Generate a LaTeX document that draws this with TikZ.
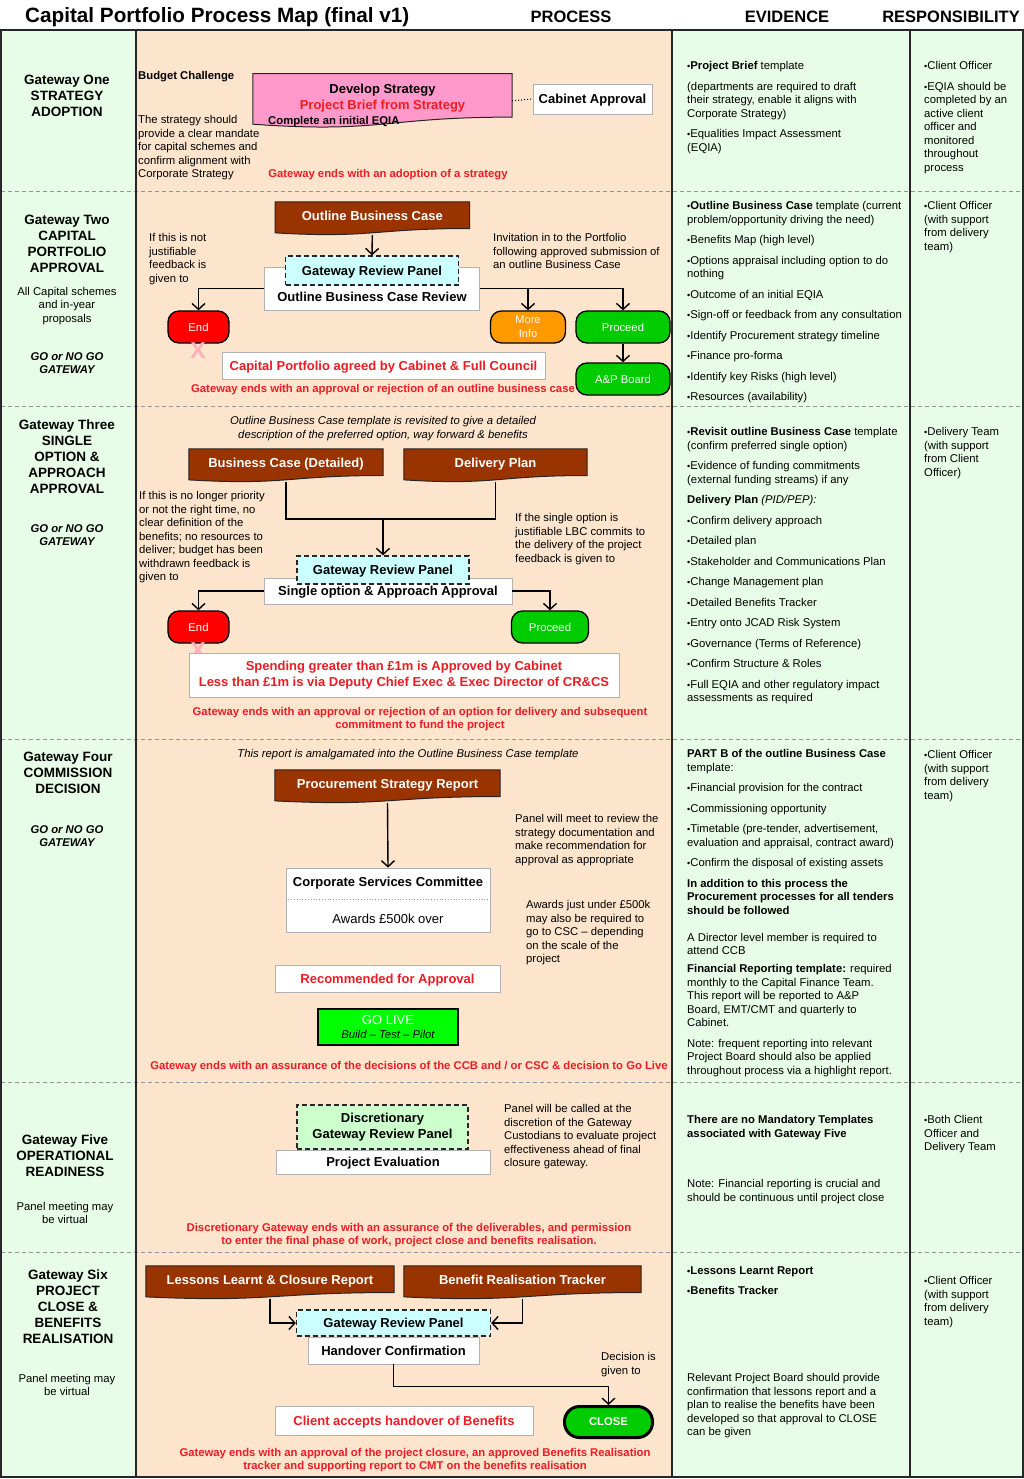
\documentclass[tikz,border=0pt]{standalone}
\usepackage{fontspec}
\setmainfont{Liberation Sans}
\usetikzlibrary{positioning,arrows.meta,calc}
\definecolor{GateGreen}{RGB}{232,253,232}
\definecolor{ProcessPeach}{RGB}{253,228,204}
\definecolor{DocBrown}{RGB}{153,51,0}
\definecolor{DocPink}{RGB}{255,153,204}
\definecolor{PanelCyan}{RGB}{204,255,255}
\definecolor{PanelGreen}{RGB}{204,255,204}
\definecolor{StopRed}{RGB}{255,0,0}
\definecolor{InfoOrange}{RGB}{255,153,0}
\definecolor{GoGreen}{RGB}{0,204,0}
\definecolor{LiveGreen}{RGB}{0,255,0}
\definecolor{NoteRed}{RGB}{237,28,36}
\definecolor{CrossPink}{RGB}{255,175,185}
\definecolor{RuleGrey}{RGB}{150,150,150}

\newcommand{\smallfont}{\fontsize{11.3}{13.5}\selectfont}
\newcommand{\boxfont}{\fontsize{13}{15.5}\selectfont\bfseries}
\newcommand{\gatefont}{\fontsize{13.5}{16}\selectfont\bfseries}
\newcommand{\bul}{{\scalebox{0.8}{\textbullet}}}

\pgfdeclarelayer{sheet}
\pgfdeclarelayer{docs}
\pgfsetlayers{sheet,docs,main}

\newcommand{\docshape}[2]{%
  \filldraw[fill=#2, draw=black!85, line width=1pt]
    (#1.north west) -- (#1.north east)
    -- ($(#1.north east)!0.8!(#1.south east)$)
    .. controls ($(#1.north)!0.8!(#1.south)$) and ($(#1.north)!1.1!(#1.south)$)
    .. ($(#1.north west)!0.93!(#1.south west)$) -- cycle;}

\begin{document}
\begin{tikzpicture}[x=1pt, y=-1pt,
  every node/.style={inner sep=0pt, font=\smallfont},
  headfont/.style={font=\fontsize{16.5}{19}\selectfont\bfseries},
  gatehead/.style={align=center, font=\gatefont, yshift=-1pt},
  gatenote/.style={align=center, yshift=-1pt},
  note/.style={align=left, anchor=north west, yshift=-3pt},
  endnote/.style={align=center, text=NoteRed, font=\smallfont\bfseries, yshift=-2pt},
  oneline/.style={text height=9.5pt, text depth=0.5pt},
  docbox/.style={text=white, font=\boxfont, text height=9.5pt, text depth=5pt},
  panelbox/.style={draw=black!85, dash pattern=on 5pt off 3pt, line width=1.3pt, fill=PanelCyan, font=\boxfont, align=center},
  whitebox/.style={draw=black!30, fill=white, line width=0.8pt, font=\boxfont, align=center},
  pill/.style={draw=black, line width=1.3pt, rounded corners=11pt, text=white, minimum height=32pt},
  crossmark/.style={text=CrossPink, font=\fontsize{23}{23}\selectfont\bfseries},
  link/.style={line width=1.4pt},
  arrow/.style={link, -{Straight Barb[length=6pt,width=13pt]}}
]
\useasboundingbox (0,0) rectangle (1024,1479);

\begin{pgfonlayer}{sheet}
\fill[white] (0,0) rectangle (1024,1479);
\fill[GateGreen] (1,30) rectangle (136,1477);
\fill[ProcessPeach] (136,30) rectangle (672,1477);
\fill[GateGreen] (672,30) rectangle (1023,1477);
\foreach \yy in {191,406,739,1082,1252}
  \draw[RuleGrey, line width=0.9pt, dash pattern=on 4pt off 3pt] (1,\yy) -- (1023,\yy);
\draw[black!85, line width=1.6pt] (1,30) rectangle (1023,1477);
\draw[black!85, line width=2pt] (136,30) -- (136,1477);
\draw[black!85, line width=2pt] (672,30) -- (672,1477);
\draw[black!85, line width=1.5pt] (910,30) -- (910,1477);
\end{pgfonlayer}

\node[anchor=west, font=\fontsize{20.7}{24}\selectfont\bfseries] (title) at (25,17) {Capital Portfolio Process Map (final v1)};
\node[headfont] (hprocess) at (571,17) {PROCESS};
\node[headfont] (hevidence) at (787,17) {EVIDENCE};
\node[headfont] (hresp) at (951,17) {RESPONSIBILITY};

\node[gatehead] (gate1) at (67,95) {Gateway One\\STRATEGY\\ADOPTION};
\node[gatehead] (gate2) at (67,243) {Gateway Two\\CAPITAL\\PORTFOLIO\\APPROVAL};
\node[gatenote] (scope2) at (67,305) {All Capital schemes\\and in-year\\proposals};
\node[gatenote, font=\smallfont\bfseries\itshape] (gonogo2) at (67,362) {GO or NO GO\\GATEWAY};
\node[gatehead] (gate3) at (67,456) {Gateway Three\\SINGLE\\OPTION \&\\APPROACH\\APPROVAL};
\node[gatenote, font=\smallfont\bfseries\itshape] (gonogo3) at (67,534) {GO or NO GO\\GATEWAY};
\node[gatehead] (gate4) at (68,772) {Gateway Four\\COMMISSION\\DECISION};
\node[gatenote, font=\smallfont\bfseries\itshape] (gonogo4) at (67,835) {GO or NO GO\\GATEWAY};
\node[gatehead] (gate5) at (65,1155) {Gateway Five\\OPERATIONAL\\READINESS};
\node[gatenote] (virtual5) at (65,1212) {Panel meeting may\\be virtual};
\node[gatehead] (gate6) at (68,1306) {Gateway Six\\PROJECT\\CLOSE \&\\BENEFITS\\REALISATION};
\node[gatenote] (virtual6) at (67,1384) {Panel meeting may\\be virtual};

\node[anchor=west, font=\smallfont\bfseries] (budget) at (138,77) {Budget Challenge};
\node[note] (mandate) at (138,112.5) {The strategy should\\provide a clear mandate\\for capital schemes and\\confirm alignment with\\Corporate Strategy};
\node[align=center, font=\boxfont, minimum width=259pt, minimum height=54pt] (develop) at (382.5,100.8) {Develop Strategy\\\textcolor{NoteRed}{Project Brief from Strategy}\rule[-8pt]{0pt}{8pt}};
\node[anchor=west, font=\smallfont\bfseries] (eqia) at (268,121.5) {Complete an initial EQIA};
\node[whitebox, oneline, minimum width=119pt, minimum height=30pt] (cabinet) at (592.5,99) {Cabinet Approval};
\draw[dotted, line width=1pt] (develop.east) -- (cabinet.west);
\node[endnote] (end1) at (388,173) {Gateway ends with an adoption of a strategy};

\node[docbox, minimum width=194pt, minimum height=33pt] (obc) at (372.3,218.5) {Outline Business Case};
\node[whitebox, minimum width=215pt, minimum height=43pt, text height=29pt, text depth=3pt] (obcr) at (372,288.5) {Outline Business Case Review};
\node[panelbox, oneline, minimum width=173pt, minimum height=29pt] (grp2) at (372,270.5) {Gateway Review Panel};
\node[pill, fill=StopRed, minimum width=61pt] (stop2) at (198.5,327) {End};
\node[pill, fill=InfoOrange, minimum width=75pt, align=center, font=\fontsize{11}{13.5}\selectfont] (info2) at (528,327) {More\\Info};
\node[pill, fill=GoGreen, minimum width=94pt] (proceed2) at (623,327) {Proceed};
\node[pill, fill=GoGreen, minimum width=94pt] (board2) at (623,379) {A\&P Board};
\node[crossmark] (cross2) at (198,351) {X};
\node[whitebox, oneline, text=NoteRed, minimum width=323pt, minimum height=27pt] (agreed2) at (383.5,365.5) {Capital Portfolio agreed by Cabinet \& Full Council};
\node[endnote] (end2) at (383,388) {Gateway ends with an approval or rejection of an outline business case};
\node[note] (nojust2) at (149,230.5) {If this is not\\justifiable\\feedback is\\given to};
\node[note] (invite2) at (493,230.5) {Invitation in to the Portfolio\\following approved submission of\\an outline Business Case};
\draw[arrow] (obc.south) -- (grp2.north);
\draw[arrow] (obcr.west) -| (stop2.north);
\draw[arrow] (obcr.east) -| (proceed2.north);
\draw[arrow] (obcr.east -| info2.north) -- (info2.north);
\draw[arrow] (proceed2) -- (board2);

\node[align=center, font=\smallfont\itshape, yshift=-1.5pt] (intro3) at (383,427) {Outline Business Case template is revisited to give a detailed\\description of the preferred option, way forward \& benefits};
\node[docbox, minimum width=194pt, minimum height=33pt] (bcd3) at (286,465.5) {Business Case (Detailed)};
\node[docbox, minimum width=183pt, minimum height=33pt] (plan3) at (495.5,465.5) {Delivery Plan};
\node[whitebox, oneline, minimum width=248pt, minimum height=26pt] (soa3) at (388,591) {Single option \& Approach Approval};
\node[panelbox, oneline, minimum width=172pt, minimum height=28pt] (grp3) at (383,570) {Gateway Review Panel};
\node[pill, fill=StopRed, minimum width=61pt] (stop3) at (198.5,627) {End};
\node[pill, fill=GoGreen, minimum width=77pt] (proceed3) at (550,627) {Proceed};
\node[crossmark] (cross3) at (198,651) {X};
\node[whitebox, text=NoteRed, minimum width=430pt, minimum height=44pt] (spend3) at (404,675) {Spending greater than £1m is Approved by Cabinet\\Less than £1m is via Deputy Chief Exec \& Exec Director of CR\&CS};
\node[endnote] (end3) at (420,717) {Gateway ends with an approval or rejection of an option for delivery and subsequent\\commitment to fund the project};
\node[note] (nolong3) at (139,488.5) {If this is no longer priority\\or not the right time, no\\clear definition of the\\benefits; no resources to\\deliver; budget has been\\withdrawn feedback is\\given to};
\node[note] (single3) at (515,510.5) {If the single option is\\justifiable LBC commits to\\the delivery of the project\\feedback is given to};
\coordinate (join3) at (383,519);
\draw[link] (bcd3.south) |- (join3) -| (plan3.south);
\draw[arrow] (join3) -- (grp3.north);
\draw[arrow] (soa3.west) -| (stop3.north);
\draw[arrow] (soa3.east) -| (proceed3.north);

\node[font=\smallfont\itshape, yshift=-1.5pt] (intro4) at (408,753) {This report is amalgamated into the Outline Business Case template};
\node[docbox, minimum width=225pt, minimum height=33pt] (psr4) at (387.5,786.5) {Procurement Strategy Report};
\node[whitebox, minimum width=204pt, minimum height=64pt] (csc4) at (388,900) {};
\node[font=\boxfont, oneline] (csctitle4) at ([yshift=18pt]csc4.center) {Corporate Services Committee};
\node[font=\fontsize{13}{15.5}\selectfont, oneline] (cscaward4) at ([yshift=-19pt]csc4.center) {Awards £500k over};
\draw[RuleGrey, dotted, line width=0.8pt] ([yshift=1pt]csc4.west) -- ([yshift=1pt]csc4.east);
\draw[arrow] (psr4.south) -- (csc4.north);
\node[note] (panel4) at (515,811.5) {Panel will meet to review the\\strategy documentation and\\make recommendation for\\approval as appropriate};
\node[note] (under4) at (526,897.5) {Awards just under £500k\\may also be required to\\go to CSC – depending\\on the scale of the\\project};
\node[whitebox, oneline, text=NoteRed, minimum width=225pt, minimum height=27pt] (recom4) at (387.5,978.5) {Recommended for Approval};
\node[draw=black, line width=2pt, fill=LiveGreen, minimum width=140pt, minimum height=36pt, align=center] (live4) at (388,1027) {{\fontsize{13}{15}\selectfont\color{white}GO LIVE}\\{\smallfont\itshape Build – Test – Pilot}};
\node[endnote] (end4) at (409,1065) {Gateway ends with an assurance of the decisions of the CCB and / or CSC \& decision to Go Live};

\node[whitebox, oneline, minimum width=214pt, minimum height=24pt] (eval5) at (383,1162) {Project Evaluation};
\node[panelbox, fill=PanelGreen, minimum width=171pt, minimum height=44pt] (dgrp5) at (382.5,1127) {Discretionary\\Gateway Review Panel};
\node[note] (called5) at (504,1101.5) {Panel will be called at the\\discretion of the Gateway\\Custodians to evaluate project\\effectiveness ahead of final\\closure gateway.};
\node[endnote] (end5) at (409,1233) {Discretionary Gateway ends with an assurance of the deliverables, and permission\\to enter the final phase of work, project close and benefits realisation.};

\node[docbox, minimum width=248pt, minimum height=33pt] (lessons6) at (270,1282.5) {Lessons Learnt \& Closure Report};
\node[docbox, minimum width=237pt, minimum height=33pt] (tracker6) at (522.5,1282.5) {Benefit Realisation Tracker};
\node[whitebox, oneline, minimum width=171pt, minimum height=27pt] (handover6) at (393.5,1350.5) {Handover Confirmation};
\node[panelbox, oneline, minimum width=194pt, minimum height=26pt] (grp6) at (393.5,1323) {Gateway Review Panel};
\node[pill, fill=GoGreen, line width=3pt, rounded corners=15pt, minimum width=88pt, minimum height=31pt, font=\smallfont\bfseries] (close6) at (608.5,1422) {CLOSE};
\node[whitebox, oneline, text=NoteRed, minimum width=258pt, minimum height=29pt] (client6) at (404,1420.5) {Client accepts handover of Benefits};
\node[note] (decision6) at (601,1349.5) {Decision is\\given to};
\node[endnote] (end6) at (415,1458) {Gateway ends with an approval of the project closure, an approved Benefits Realisation\\tracker and supporting report to CMT on the benefits realisation};
\draw[arrow] (lessons6.south) |- (grp6.west);
\draw[arrow] (tracker6.south) |- (grp6.east);
\draw[arrow] (handover6.south) -- ++(0,22) -| (close6.north);

\node[note] (evid1) at (687,58.5) {\bul\textbf{Project Brief} template\\[7pt](departments are required to draft\\their strategy, enable it aligns with\\Corporate Strategy)\\[7pt]\bul Equalities Impact Assessment\\(EQIA)};
\node[note] (evid2) at (687,198.5) {\bul\textbf{Outline Business Case} template (current\\problem/opportunity driving the need)\\[7pt]\bul Benefits Map (high level)\\[7pt]\bul Options appraisal including option to do\\nothing\\[7pt]\bul Outcome of an initial EQIA\\[7pt]\bul Sign-off or feedback from any consultation\\[7pt]\bul Identify Procurement strategy timeline\\[7pt]\bul Finance pro-forma\\[7pt]\bul Identify key Risks (high level)\\[7pt]\bul Resources (availability)};
\node[note] (evid3) at (687,424.5) {\bul\textbf{Revisit outline Business Case} template\\(confirm preferred single option)\\[7pt]\bul Evidence of funding commitments\\(external funding streams) if any\\[7pt]\textbf{Delivery Plan} \textit{(PID/PEP):}\\[7pt]\bul Confirm delivery approach\\[7pt]\bul Detailed plan\\[7pt]\bul Stakeholder and Communications Plan\\[7pt]\bul Change Management plan\\[7pt]\bul Detailed Benefits Tracker\\[7pt]\bul Entry onto JCAD Risk System\\[7pt]\bul Governance (Terms of Reference)\\[7pt]\bul Confirm Structure \& Roles\\[7pt]\bul Full EQIA and other regulatory impact\\assessments as required};
\node[note] (evid4) at (687,746.5) {\textbf{PART B of the outline Business Case}\\template:\\[7pt]\bul Financial provision for the contract\\[7pt]\bul Commissioning opportunity\\[7pt]\bul Timetable (pre-tender, advertisement,\\evaluation and appraisal, contract award)\\[7pt]\bul Confirm the disposal of existing assets\\[7pt]\textbf{In addition to this process the}\\\textbf{Procurement processes for all tenders}\\\textbf{should be followed}\\[13.5pt]A Director level member is required to\\attend CCB\\[4.5pt]\textbf{Financial Reporting template:} required\\monthly to the Capital Finance Team.\\This report will be reported to A\&P\\Board, EMT/CMT and quarterly to\\Cabinet.\\[7pt]Note: frequent reporting into relevant\\Project Board should also be applied\\throughout process via a highlight report.};
\node[note, font=\smallfont\bfseries] (evid5) at (687,1112.5) {There are no Mandatory Templates\\associated with Gateway Five};
\node[note] (finance5) at (687,1176.5) {Note: Financial reporting is crucial and\\should be continuous until project close};
\node[note, font=\smallfont\bfseries] (evid6) at (687,1263.5) {\bul Lessons Learnt Report\\[7pt]\bul Benefits Tracker};
\node[note] (board6) at (687,1370.5) {Relevant Project Board should provide\\confirmation that lessons report and a\\plan to realise the benefits have been\\developed so that approval to CLOSE\\can be given};

\node[note] (resp1) at (924,58.5) {\bul Client Officer\\[7pt]\bul EQIA should be\\completed by an\\active client\\officer and\\monitored\\throughout\\process};
\node[note] (resp2) at (924,198.5) {\bul Client Officer\\(with support\\from delivery\\team)};
\node[note] (resp3) at (924,424.5) {\bul Delivery Team\\(with support\\from Client\\Officer)};
\node[note] (resp4) at (924,747.5) {\bul Client Officer\\(with support\\from delivery\\team)};
\node[note] (resp5) at (924,1112.5) {\bul Both Client\\Officer and\\Delivery Team};
\node[note] (resp6) at (924,1273.5) {\bul Client Officer\\(with support\\from delivery\\team)};

\begin{pgfonlayer}{docs}
\docshape{develop}{DocPink}
\foreach \dd in {obc,bcd3,plan3,psr4,lessons6,tracker6} {\docshape{\dd}{DocBrown}}
\end{pgfonlayer}
\end{tikzpicture}
\end{document}
